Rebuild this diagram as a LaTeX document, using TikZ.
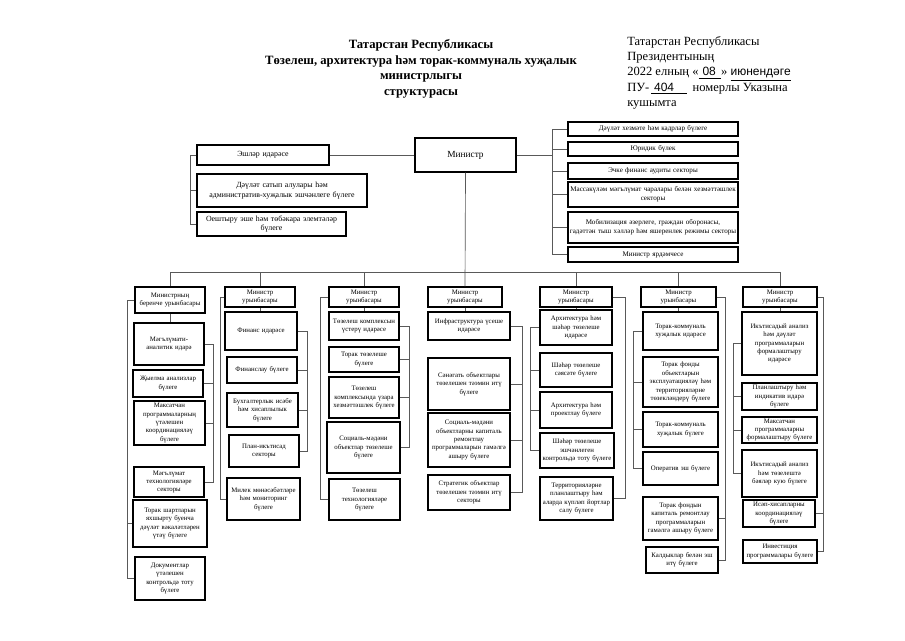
\documentclass[tikz,border=0pt]{standalone}
\usepackage{fontspec}
\setmainfont{Liberation Serif}
\setsansfont{Liberation Sans}
\begin{document}
\begin{tikzpicture}[x=0.75pt,y=-0.75pt]
\tikzset{
  bx/.style={draw, line width=0.8pt, inner sep=0.5pt, align=center, font=\fontsize{5.1}{6.3}\selectfont},
  topbx/.style={font=\fontsize{5.9}{7}\selectfont},
  rbx/.style={font=\fontsize{5.3}{6.6}\selectfont},
  ln/.style={line width=0.5pt, draw=black!65},
}
\newcommand\obox[7][]{\node[bx,#1, minimum width={(#5-#3)*0.75pt}, minimum height={(#6-#4)*0.75pt}, text width={(#5-#3)*0.75pt-1pt}] (#2) at ({(#3+#5)/2},{(#4+#6)/2}) {#7};}
\useasboundingbox[fill=white] (0,0) rectangle (905,640);

% headers
\node[font=\bfseries\fontsize{9.5}{11.8}\selectfont, align=center, anchor=north, inner sep=0] (title) at (421,39)
  {Татарстан Республикасы\\Төзелеш, архитектура һәм торак-коммуналь хуҗалык\\министрлыгы\\структурасы};
\node[font=\fontsize{9.4}{11.5}\selectfont, align=left, anchor=north west, inner sep=0] (hdr) at (627,36)
  {Татарстан Республикасы\\Президентының\\2022 елның «\underline{\hspace{3pt}{\sffamily\fontsize{9}{11}\selectfont 08}\hspace{4pt}}» \underline{{\sffamily\fontsize{9}{11}\selectfont июнендәге}}\\ПУ-\,\underline{\hspace{2pt}{\sffamily\fontsize{9}{11}\selectfont 404}\hspace{10pt}}\, номерлы Указына\\кушымта};

% top
\obox[font=\fontsize{7}{8}\selectfont, line width=1pt]{min}{415}{138}{516}{172}{Министр}
\obox[topbx]{l1}{197}{145}{329}{165}{Эшләр идарәсе}
\obox[topbx]{l2}{197}{174}{367}{207}{Дәүләт сатып алулары һәм\\административ-хуҗалык эшчәнлеге бүлеге}
\obox[topbx]{l3}{197}{212}{346}{236}{Оештыру эше һәм төбәкара элемтәләр\\бүлеге}
\obox[rbx]{r1}{568}{122}{738}{136}{Дәүләт хезмәте һәм кадрлар бүлеге}
\obox[rbx]{r2}{568}{142}{738}{156}{Юридик бүлек}
\obox[rbx]{r3}{568}{163}{738}{179}{Эчке финанс аудиты секторы}
\obox[rbx]{r4}{568}{182}{738}{207}{Массакүләм мәгълүмат чаралары белән хезмәттәшлек\\секторы}
\obox[rbx]{r5}{568}{212}{738}{243}{Мобилизация әзерлеге, граждан оборонасы,\\гадәттән тыш хәлләр һәм яшеренлек режимы секторы}
\obox[rbx]{r6}{568}{247}{738}{262}{Министр ярдәмчесе}

% column 1
\obox{c1}{135}{287}{205}{313}{Министрның\\беренче урынбасары}
\obox{c1a}{134}{323}{204}{365}{Мәгълүмати-\\аналитик идарә}
\obox{c1b}{133}{370}{203}{397}{Җыелма анализлар\\бүлеге}
\obox{c1c}{134}{401}{205}{445}{Максатчан\\программаларның\\үтәлешен\\координацияләү\\бүлеге}
\obox{c1d}{134}{467}{204}{497}{Мәгълүмат\\технологияләре\\секторы}
\obox{c1e}{133}{500}{207}{547}{Торак шартларын\\яхшырту буенча\\дәүләт вәкаләтләрен\\үтәү бүлеге}
\obox{c1f}{135}{557}{205}{600}{Документлар\\үтәлешен\\контрольдә тоту\\бүлеге}
% column 2
\obox{c2}{225}{287}{295}{307}{Министр\\урынбасары}
\obox{c2a}{225}{312}{297}{350}{Финанс идарәсе}
\obox{c2b}{227}{357}{297}{383}{Финанслау бүлеге}
\obox{c2c}{227}{393}{298}{427}{Бухгалтерлык исәбе\\һәм хисаплылык\\бүлеге}
\obox{c2d}{229}{435}{299}{467}{План-икътисад\\секторы}
\obox{c2e}{227}{478}{300}{520}{Милек мөнәсәбәтләре\\һәм мониторинг\\бүлеге}
% column 3
\obox{c3}{329}{287}{399}{307}{Министр\\урынбасары}
\obox{c3a}{329}{312}{399}{340}{Төзелеш комплексын\\үстерү идарәсе}
\obox{c3b}{329}{347}{399}{372}{Торак төзелеше\\бүлеге}
\obox{c3c}{329}{377}{399}{418}{Төзелеш\\комплексында үзара\\хезмәттәшлек бүлеге}
\obox{c3d}{327}{422}{400}{473}{Социаль-мәдәни\\объектлар төзелеше\\бүлеге}
\obox{c3e}{329}{479}{400}{520}{Төзелеш\\технологияләре\\бүлеге}
% column 4
\obox{c4}{428}{287}{502}{307}{Министр\\урынбасары}
\obox{c4a}{428}{312}{510}{340}{Инфраструктура үсеше\\идарәсе}
\obox{c4b}{428}{358}{510}{410}{Сәнәгать объектлары\\төзелешен тәэмин итү\\бүлеге}
\obox{c4c}{428}{413}{510}{467}{Социаль-мәдәни\\объектларны капиталь\\ремонтлау\\программаларын гамәлгә\\ашыру бүлеге}
\obox{c4d}{428}{475}{510}{510}{Стратегик объектлар\\төзелешен тәэмин итү\\секторы}
% column 5
\obox{c5}{540}{287}{612}{307}{Министр\\урынбасары}
\obox{c5a}{540}{310}{612}{345}{Архитектура һәм\\шәһәр төзелеше\\идарәсе}
\obox{c5b}{540}{353}{612}{387}{Шәһәр төзелеше\\сәясәте бүлеге}
\obox{c5c}{540}{392}{612}{428}{Архитектура һәм\\проектлау бүлеге}
\obox{c5d}{540}{433}{614}{468}{Шәһәр төзелеше\\эшчәнлеген\\контрольдә тоту бүлеге}
\obox{c5e}{540}{477}{613}{520}{Территорияләрне\\планлаштыру һәм\\аларда күпләп йортлар\\салу бүлеге}
% column 6
\obox{c6}{641}{287}{716}{307}{Министр\\урынбасары}
\obox{c6a}{643}{312}{718}{350}{Торак-коммуналь\\хуҗалык идарәсе}
\obox{c6b}{643}{357}{718}{407}{Торак фонды\\объектларын\\эксплуатацияләү һәм\\территорияләрне\\төзекләндерү бүлеге}
\obox{c6c}{643}{412}{718}{447}{Торак-коммуналь\\хуҗалык бүлеге}
\obox{c6d}{643}{452}{718}{485}{Оператив эш бүлеге}
\obox{c6e}{643}{497}{718}{540}{Торак фондын\\капиталь ремонтлау\\программаларын\\гамәлгә ашыру бүлеге}
\obox{c6f}{646}{547}{718}{573}{Калдыклар белән эш\\итү бүлеге}
% column 7
\obox{c7}{743}{287}{817}{307}{Министр\\урынбасары}
\obox{c7a}{742}{312}{817}{375}{Икътисадый анализ\\һәм дәүләт\\программаларын\\формалаштыру\\идарәсе}
\obox{c7b}{742}{383}{817}{410}{Планлаштыру һәм\\индикатив идарә\\бүлеге}
\obox{c7c}{742}{417}{817}{443}{Максатчан\\программаларны\\формалаштыру бүлеге}
\obox{c7d}{742}{450}{817}{497}{Икътисадый анализ\\һәм төзелештә\\бәяләр кую бүлеге}
\obox{c7e}{743}{500}{815}{527}{Исәп-хисапларны\\координацияләү\\бүлеге}
\obox{c7f}{743}{540}{817}{563}{Инвестиция\\программалары бүлеге}

% bracket coordinates
\coordinate (bl) at (190,0);
\coordinate (br) at (552,0);
\coordinate (bus) at (0,272);
\coordinate (k1r) at (213,0); \coordinate (k1l) at (127,0);
\coordinate (k2r) at (307,0); \coordinate (k2l) at (220,0);
\coordinate (k3r) at (409,0); \coordinate (k3l) at (320,0);
\coordinate (k4r) at (522,0);
\coordinate (k5l) at (530,0); \coordinate (k5r) at (625,0);
\coordinate (k6l) at (633,0); \coordinate (k6r) at (725,0);
\coordinate (k7l) at (733,0); \coordinate (k7r) at (823,0);

% top connectors
\draw[ln] (min.west) -- (l1.east);
\draw[ln] (l1.west) -- (l1.west -| bl) -- (l3.west -| bl) -- (l3.west);
\draw[ln] (l2.west -| bl) -- (l2.west);
\draw[ln] (min.east) -- (min.east -| br);
\draw[ln] (r1.west -| br) -- (r6.west -| br);
\foreach \r in {r1,r2,r3,r4,r5,r6} \draw[ln] (\r.west -| br) -- (\r.west);
\draw[ln] (min.south) -- (c4.north);
\draw[ln] (c1.north |- bus) -- (c7.north |- bus);
\foreach \c in {c1,c2,c3,c5,c6,c7} \draw[ln] (\c.north |- bus) -- (\c.north);
\foreach \c in {c1,c2,c3,c4,c5,c6,c7} \draw[ln] (\c.south) -- (\c a.north -| \c.south);

% column brackets
\draw[ln] (c1a.east) -- (c1a.east -| k1r) -- (c1d.east -| k1r) -- (c1d.east);
\foreach \b in {c1b,c1c} \draw[ln] (\b.east) -- (\b.east -| k1r);
\draw[ln] (c1.west) -- (c1.west -| k1l) -- (c1f.west -| k1l) -- (c1f.west);
\draw[ln] (c1e.west) -- (c1e.west -| k1l);

\draw[ln] (c2a.east) -- (c2a.east -| k2r) -- (c2d.east -| k2r) -- (c2d.east);
\foreach \b in {c2b,c2c} \draw[ln] (\b.east) -- (\b.east -| k2r);
\draw[ln] (c2.west) -- (c2.west -| k2l) -- (c2e.west -| k2l) -- (c2e.west);

\draw[ln] (c3a.east) -- (c3a.east -| k3r) -- (c3d.east -| k3r) -- (c3d.east);
\foreach \b in {c3b,c3c} \draw[ln] (\b.east) -- (\b.east -| k3r);
\draw[ln] (c3.west) -- (c3.west -| k3l) -- (c3e.west -| k3l) -- (c3e.west);

\draw[ln] (c4a.east) -- (c4a.east -| k4r) -- (c4d.east -| k4r) -- (c4d.east);
\foreach \b in {c4b,c4c} \draw[ln] (\b.east) -- (\b.east -| k4r);

\draw[ln] (c5a.west) -- (c5a.west -| k5l) -- (c5d.west -| k5l) -- (c5d.west);
\foreach \b in {c5b,c5c} \draw[ln] (\b.west) -- (\b.west -| k5l);
\draw[ln] (c5.east) -- (c5.east -| k5r) -- (c5e.east -| k5r) -- (c5e.east);

\draw[ln] (c6a.west) -- (c6a.west -| k6l) -- (c6d.west -| k6l) -- (c6d.west);
\foreach \b in {c6b,c6c} \draw[ln] (\b.west) -- (\b.west -| k6l);
\draw[ln] (c6.east) -- (c6.east -| k6r) -- (c6f.east -| k6r) -- (c6f.east);
\draw[ln] (c6e.east) -- (c6e.east -| k6r);

\draw[ln] (c7a.west) -- (c7a.west -| k7l) -- (c7d.west -| k7l) -- (c7d.west);
\foreach \b in {c7b,c7c} \draw[ln] (\b.west) -- (\b.west -| k7l);
\draw[ln] (c7.east) -- (c7.east -| k7r) -- (c7f.east -| k7r) -- (c7f.east);
\draw[ln] (c7e.east) -- (c7e.east -| k7r);
\end{tikzpicture}
\end{document}
